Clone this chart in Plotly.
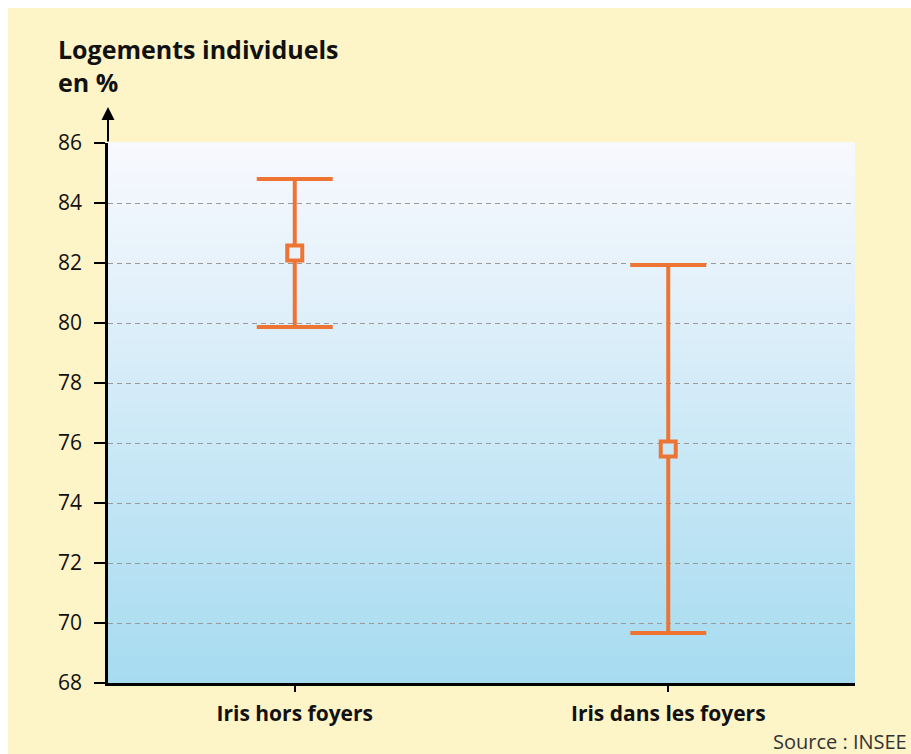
import plotly.graph_objects as go

categories = ["Iris hors foyers", "Iris dans les foyers"]
median_vals = [82.33, 75.8]
upper_vals = [84.8, 81.93]
lower_vals = [79.87, 69.67]
y_ticks = [68, 70, 72, 74, 76, 78, 80, 82, 84, 86]

Y_MIN, Y_MAX = 68, 86
TOP_RGB = (249, 249, 254)
BOT_RGB = (166, 219, 240)
ORANGE = "#EE7434"
FONT = "Open Sans"

# plot area in figure pixels (figure sits at page offset 8,8)
L, T, W, H = 100, 135, 747, 540


def grad_color(t):
    r = [round(BOT_RGB[i] + (TOP_RGB[i] - BOT_RGB[i]) * t) for i in range(3)]
    return "rgb(%d,%d,%d)" % tuple(r)


def px_x(px):
    return (px - 8 - L) / W


def px_y(py):
    return (T + H - (py - 8)) / H


fig = go.Figure()

fig.add_trace(go.Scatter(
    x=categories,
    y=median_vals,
    mode="markers",
    marker=dict(
        symbol="square",
        size=15,
        color=[grad_color((v - Y_MIN) / (Y_MAX - Y_MIN)) for v in median_vals],
        line=dict(color=ORANGE, width=4),
    ),
    error_y=dict(
        type="data",
        symmetric=False,
        array=[u - m for u, m in zip(upper_vals, median_vals)],
        arrayminus=[m - l for m, l in zip(median_vals, lower_vals)],
        color=ORANGE,
        thickness=4,
        width=38,
    ),
    showlegend=False,
    hoverinfo="skip",
))

shapes = []
N = 80
for i in range(N):
    t0 = i / N
    t1 = (i + 1) / N
    shapes.append(dict(type="rect", xref="paper", yref="paper",
                       x0=0, x1=1, y0=t0, y1=t1 + 0.002,
                       fillcolor=grad_color((t0 + t1) / 2),
                       line=dict(width=0), layer="below"))

fig.update_layout(
    width=911, height=754,
    margin=dict(l=L, r=911 - L - W, t=T, b=754 - T - H),
    paper_bgcolor="#FDF4C7",
    plot_bgcolor="rgba(0,0,0,0)",
    shapes=shapes,
    font=dict(family=FONT, color="#111"),
    xaxis=dict(
        type="category",
        range=[-0.5, 1.5],
        showgrid=False,
        showline=True, linecolor="black", linewidth=2.5,
        ticks="outside", ticklen=6, tickwidth=1.5, tickcolor="black",
        ticklabelstandoff=4,
        tickfont=dict(family=FONT, size=21, color="#111", weight="bold"),
        fixedrange=True,
    ),
    yaxis=dict(
        range=[Y_MIN, Y_MAX],
        tickvals=y_ticks,
        ticktext=[str(v) for v in y_ticks],
        showgrid=True, gridcolor="#9a9a9a", gridwidth=1, griddash="5px,4px",
        zeroline=False,
        showline=True, linecolor="black", linewidth=2.5,
        ticks="outside", ticklen=11, tickwidth=2, tickcolor="black",
        ticklabelstandoff=8,
        tickfont=dict(family=FONT, size=21, color="#111"),
        fixedrange=True,
    ),
    annotations=[
        dict(text="Logements individuels<br>en %", xref="paper", yref="paper",
             x=px_x(56), y=px_y(30), xanchor="left", yanchor="top", align="left",
             showarrow=False,
             font=dict(family=FONT, size=25, color="#111", weight="bold")),
        dict(text="", xref="paper", yref="paper", x=0, y=px_y(107),
             ax=0, ay=36, showarrow=True, arrowhead=2, arrowsize=1.3,
             arrowwidth=2, arrowcolor="black"),
        dict(text="Source : INSEE", xref="paper", yref="paper",
             x=px_x(909), y=px_y(741), xanchor="right",
             yanchor="middle", showarrow=False,
             font=dict(family=FONT, size=20, color="#333")),
    ],
)

fig.write_html("out.html",
               post_script="document.documentElement.style.overflow='hidden';"
                           "document.body.style.overflow='visible';"
                           "document.body.style.width='1200px';")
